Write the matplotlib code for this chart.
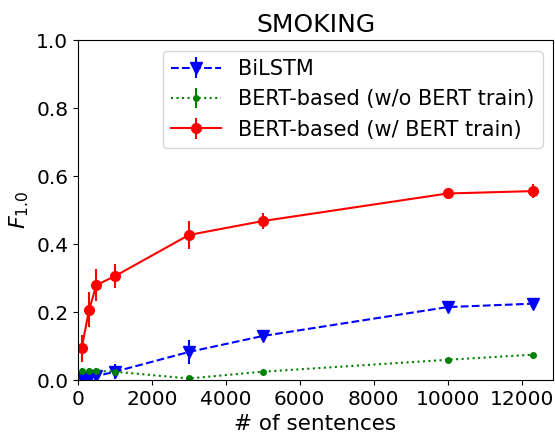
import matplotlib
matplotlib.use("Agg")
import matplotlib.pyplot as plt

sizes = [100, 300, 500, 1000, 3000, 5000, 10000, 12300]
bilstm = [0.005, 0.006, 0.012, 0.025, 0.083, 0.130, 0.215, 0.225]
bilstm_err = [0.008, 0.008, 0.015, 0.022, 0.035, 0.015, 0.010, 0.008]
bert_fixed = [0.027, 0.027, 0.027, 0.025, 0.005, 0.025, 0.060, 0.075]
bert_fixed_err = [0.010, 0.008, 0.008, 0.008, 0.004, 0.004, 0.004, 0.004]
bert_ft = [0.094, 0.207, 0.280, 0.306, 0.427, 0.468, 0.549, 0.556]
bert_ft_err = [0.040, 0.052, 0.048, 0.035, 0.040, 0.023, 0.010, 0.020]

fig = plt.figure(figsize=(5.55, 4.36), dpi=100)
ax = fig.add_axes([0.1405, 0.128, 0.856, 0.78])
ax.errorbar(sizes, bilstm, yerr=bilstm_err, color="blue", linestyle="--",
            marker="v", markersize=8, label="BiLSTM")
ax.errorbar(sizes, bert_fixed, yerr=bert_fixed_err, color="green", linestyle=":",
            marker=".", markersize=8, label="BERT-based (w/o BERT train)")
ax.errorbar(sizes, bert_ft, yerr=bert_ft_err, color="red", linestyle="-",
            marker="o", markersize=7, label="BERT-based (w/ BERT train)")
ax.set_xlim(0, 12850)
ax.set_ylim(0, 1.0)
ax.set_title("SMOKING", fontsize=18)
ax.set_xlabel("# of sentences", fontsize=15.5)
ax.set_ylabel("$F_{1.0}$", fontsize=16)
ax.tick_params(labelsize=14.5)
ax.legend(fontsize=15, loc="upper right", handlelength=2.4)
fig.savefig("out.png", dpi=100)
